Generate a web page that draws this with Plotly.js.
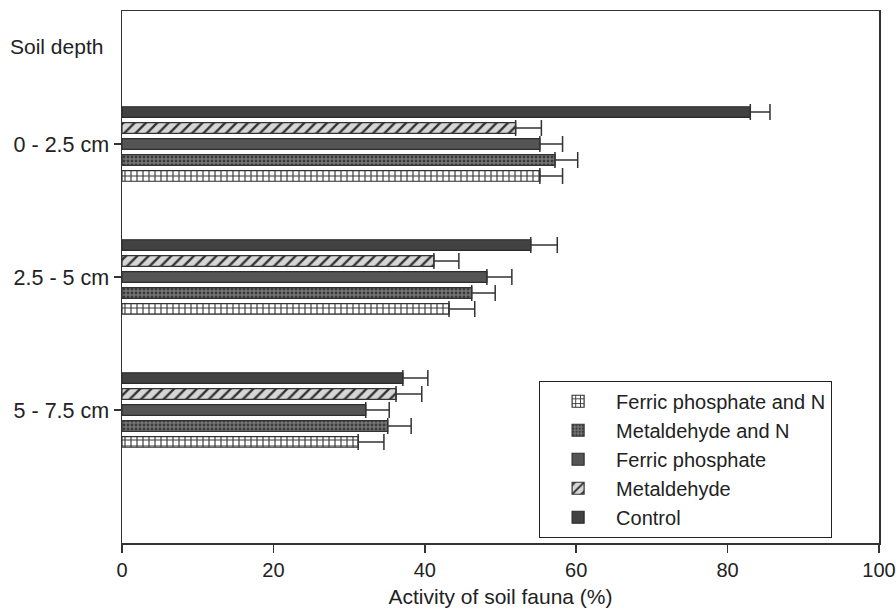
<!DOCTYPE html>
<html>
<head>
<meta charset="utf-8">
<script src="https://cdn.plot.ly/plotly-3.0.1.min.js"></script>
<style>html,body{margin:0;padding:0;background:#fff;}#chart{width:896px;height:614px;}</style>
</head>
<body>
<div id="chart"></div>
<script>
// Soil depth categories (top to bottom) and their positions on the y axis
const depths = ["0 - 2.5 cm", "2.5 - 5 cm", "5 - 7.5 cm"];
const depthPos = [3, 2, 1];

// Activity of soil fauna (%) per treatment, in depth order
const ferricN      = [55.2, 43.2, 31.2];
const ferricNErr   = [3.0, 3.4, 3.4];
const metaldN      = [57.2, 46.2, 35.1];
const metaldNErr   = [3.0, 3.1, 3.1];
const ferric       = [55.2, 48.2, 32.2];
const ferricErr    = [3.0, 3.3, 3.1];
const metald       = [52.0, 41.2, 36.2];
const metaldErr    = [3.4, 3.3, 3.4];
const control      = [83.0, 54.0, 37.1];
const controlErr   = [2.6, 3.5, 3.3];

const xTicks = [0, 20, 40, 60, 80, 100];

const FAM = "Liberation Sans, Arial, sans-serif";
const font = {family: FAM, size: 21, color: "#222"};

function mk(name, vals, errs, marker) {
  return {
    type: "bar", orientation: "h", name: name,
    x: vals, y: depthPos,
    marker: marker,
    error_x: {type: "data", symmetric: false, array: errs, arrayminus: errs.map(() => 0),
              color: "#333", thickness: 1.5, width: 8},
    hoverinfo: "x+name"
  };
}

const traces = [
  mk("Ferric phosphate and N", ferricN, ferricNErr,
     {color: "#ffffff", line: {color: "#333", width: 1.2},
      pattern: {shape: "+", fgcolor: "#3a3a3a", bgcolor: "#ffffff", size: 6, solidity: 0.35}}),
  mk("Metaldehyde and N", metaldN, metaldNErr,
     {color: "#6e6e6e", line: {color: "#333", width: 1.2},
      pattern: {shape: ".", fgcolor: "#3a3a3a", bgcolor: "#767676", size: 4, solidity: 0.4}}),
  mk("Ferric phosphate", ferric, ferricErr,
     {color: "#555555", line: {color: "#2e2e2e", width: 1.2}}),
  mk("Metaldehyde", metald, metaldErr,
     {color: "#d6d6d6", line: {color: "#333", width: 1.2},
      pattern: {shape: "/", fgcolor: "#333", bgcolor: "#d6d6d6", size: 8, solidity: 0.3}}),
  mk("Control", control, controlErr,
     {color: "#424242", line: {color: "#2a2a2a", width: 1.2}})
];

const layout = {
  width: 896, height: 614,
  margin: {l: 122, r: 17, t: 11, b: 71},
  paper_bgcolor: "#fff", plot_bgcolor: "#fff",
  font: font,
  barmode: "group", bargap: 0.4, bargroupgap: 0.33,
  showlegend: true,
  legend: {
    x: 0.551, y: 0.305, xanchor: "left", yanchor: "top",
    bgcolor: "#fff", bordercolor: "#222", borderwidth: 1,
    font: {family: FAM, size: 20, color: "#222"},
    traceorder: "normal", itemwidth: 66
  },
  xaxis: {
    range: [0, 100], tickvals: xTicks, ticktext: xTicks.map(String),
    showgrid: false, zeroline: false,
    showline: true, linecolor: "#333", linewidth: 1.5, mirror: true,
    ticks: "outside", ticklen: 8, tickcolor: "#333", tickwidth: 1.5,
    ticklabeloverflow: "allow",
    tickfont: {family: FAM, size: 20, color: "#222"},
    title: {text: "Activity of soil fauna (%)", font: {family: FAM, size: 21, color: "#222"}, standoff: 10}
  },
  yaxis: {
    range: [0, 4], tickvals: depthPos, ticktext: depths,
    showgrid: false, zeroline: false,
    showline: true, linecolor: "#333", linewidth: 1.5, mirror: true,
    ticks: "outside", ticklen: 7, tickcolor: "#333", tickwidth: 1.5,
    tickfont: {family: FAM, size: 21.5, color: "#222"}
  },
  annotations: [{
    text: "Soil depth", xref: "paper", yref: "y", x: -0.151, y: 3.73,
    xanchor: "left", yanchor: "middle", showarrow: false,
    font: {family: FAM, size: 21, color: "#222"}
  }]
};

Plotly.newPlot("chart", traces, layout, {displayModeBar: false, staticPlot: true});
</script>
</body>
</html>
